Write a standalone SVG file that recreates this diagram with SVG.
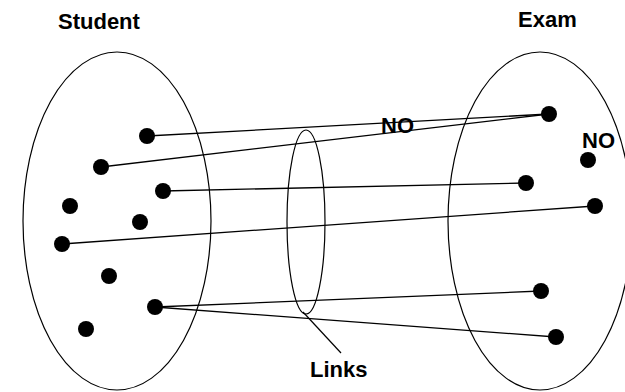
<svg xmlns="http://www.w3.org/2000/svg" width="625" height="392" viewBox="0 0 625 392">
  <style>
    .set { fill: none; stroke: #000; stroke-width: 1.2; }
    .dot { fill: #000; }
    .link { stroke: #000; stroke-width: 1.3; fill: none; }
    .lbl { font-family: "Liberation Sans", Arial, sans-serif; font-weight: bold; font-size: 22px; fill: #000; }
  </style>
  <rect width="625" height="392" fill="#fff"/>

  <!-- sets -->
  <g id="student-set">
    <ellipse class="set" cx="117" cy="221" rx="94" ry="169"/>
    <text class="lbl" x="58" y="29">Student</text>
  </g>
  <g id="exam-set">
    <ellipse class="set" cx="540" cy="221" rx="92" ry="169"/>
    <text class="lbl" x="518" y="27">Exam</text>
  </g>
  <g id="links-set">
    <ellipse class="set" cx="306" cy="222" rx="19" ry="92"/>
    <line class="set" x1="303" y1="312" x2="341" y2="353"/>
    <text class="lbl" x="310" y="377">Links</text>
  </g>

  <!-- connectors -->
  <g id="connectors">
    <line class="link" x1="147" y1="136" x2="549" y2="114"/>
    <line class="link" x1="101" y1="167" x2="549" y2="114"/>
    <line class="link" x1="163" y1="191" x2="526" y2="183"/>
    <line class="link" x1="62" y1="244" x2="595" y2="206" stroke-width="1.6"/>
    <line class="link" x1="155" y1="307" x2="541" y2="291"/>
    <line class="link" x1="155" y1="307" x2="556" y2="337"/>
  </g>

  <!-- student elements -->
  <g id="students">
    <circle class="dot" cx="147" cy="136" r="8"/>
    <circle class="dot" cx="101" cy="167" r="8"/>
    <circle class="dot" cx="163" cy="191" r="8"/>
    <circle class="dot" cx="70" cy="206" r="8"/>
    <circle class="dot" cx="140" cy="222" r="8"/>
    <circle class="dot" cx="62" cy="244" r="8"/>
    <circle class="dot" cx="109" cy="276" r="8"/>
    <circle class="dot" cx="155" cy="307" r="8"/>
    <circle class="dot" cx="86" cy="329" r="8"/>
  </g>

  <!-- exam elements -->
  <g id="exams">
    <circle class="dot" cx="549" cy="114" r="8"/>
    <circle class="dot" cx="588" cy="160" r="8"/>
    <circle class="dot" cx="526" cy="183" r="8"/>
    <circle class="dot" cx="595" cy="206" r="8"/>
    <circle class="dot" cx="541" cy="291" r="8"/>
    <circle class="dot" cx="556" cy="337" r="8"/>
  </g>

  <g id="no-labels">
    <text class="lbl" x="381" y="133">NO</text>
    <text class="lbl" x="582" y="148">NO</text>
  </g>
</svg>
